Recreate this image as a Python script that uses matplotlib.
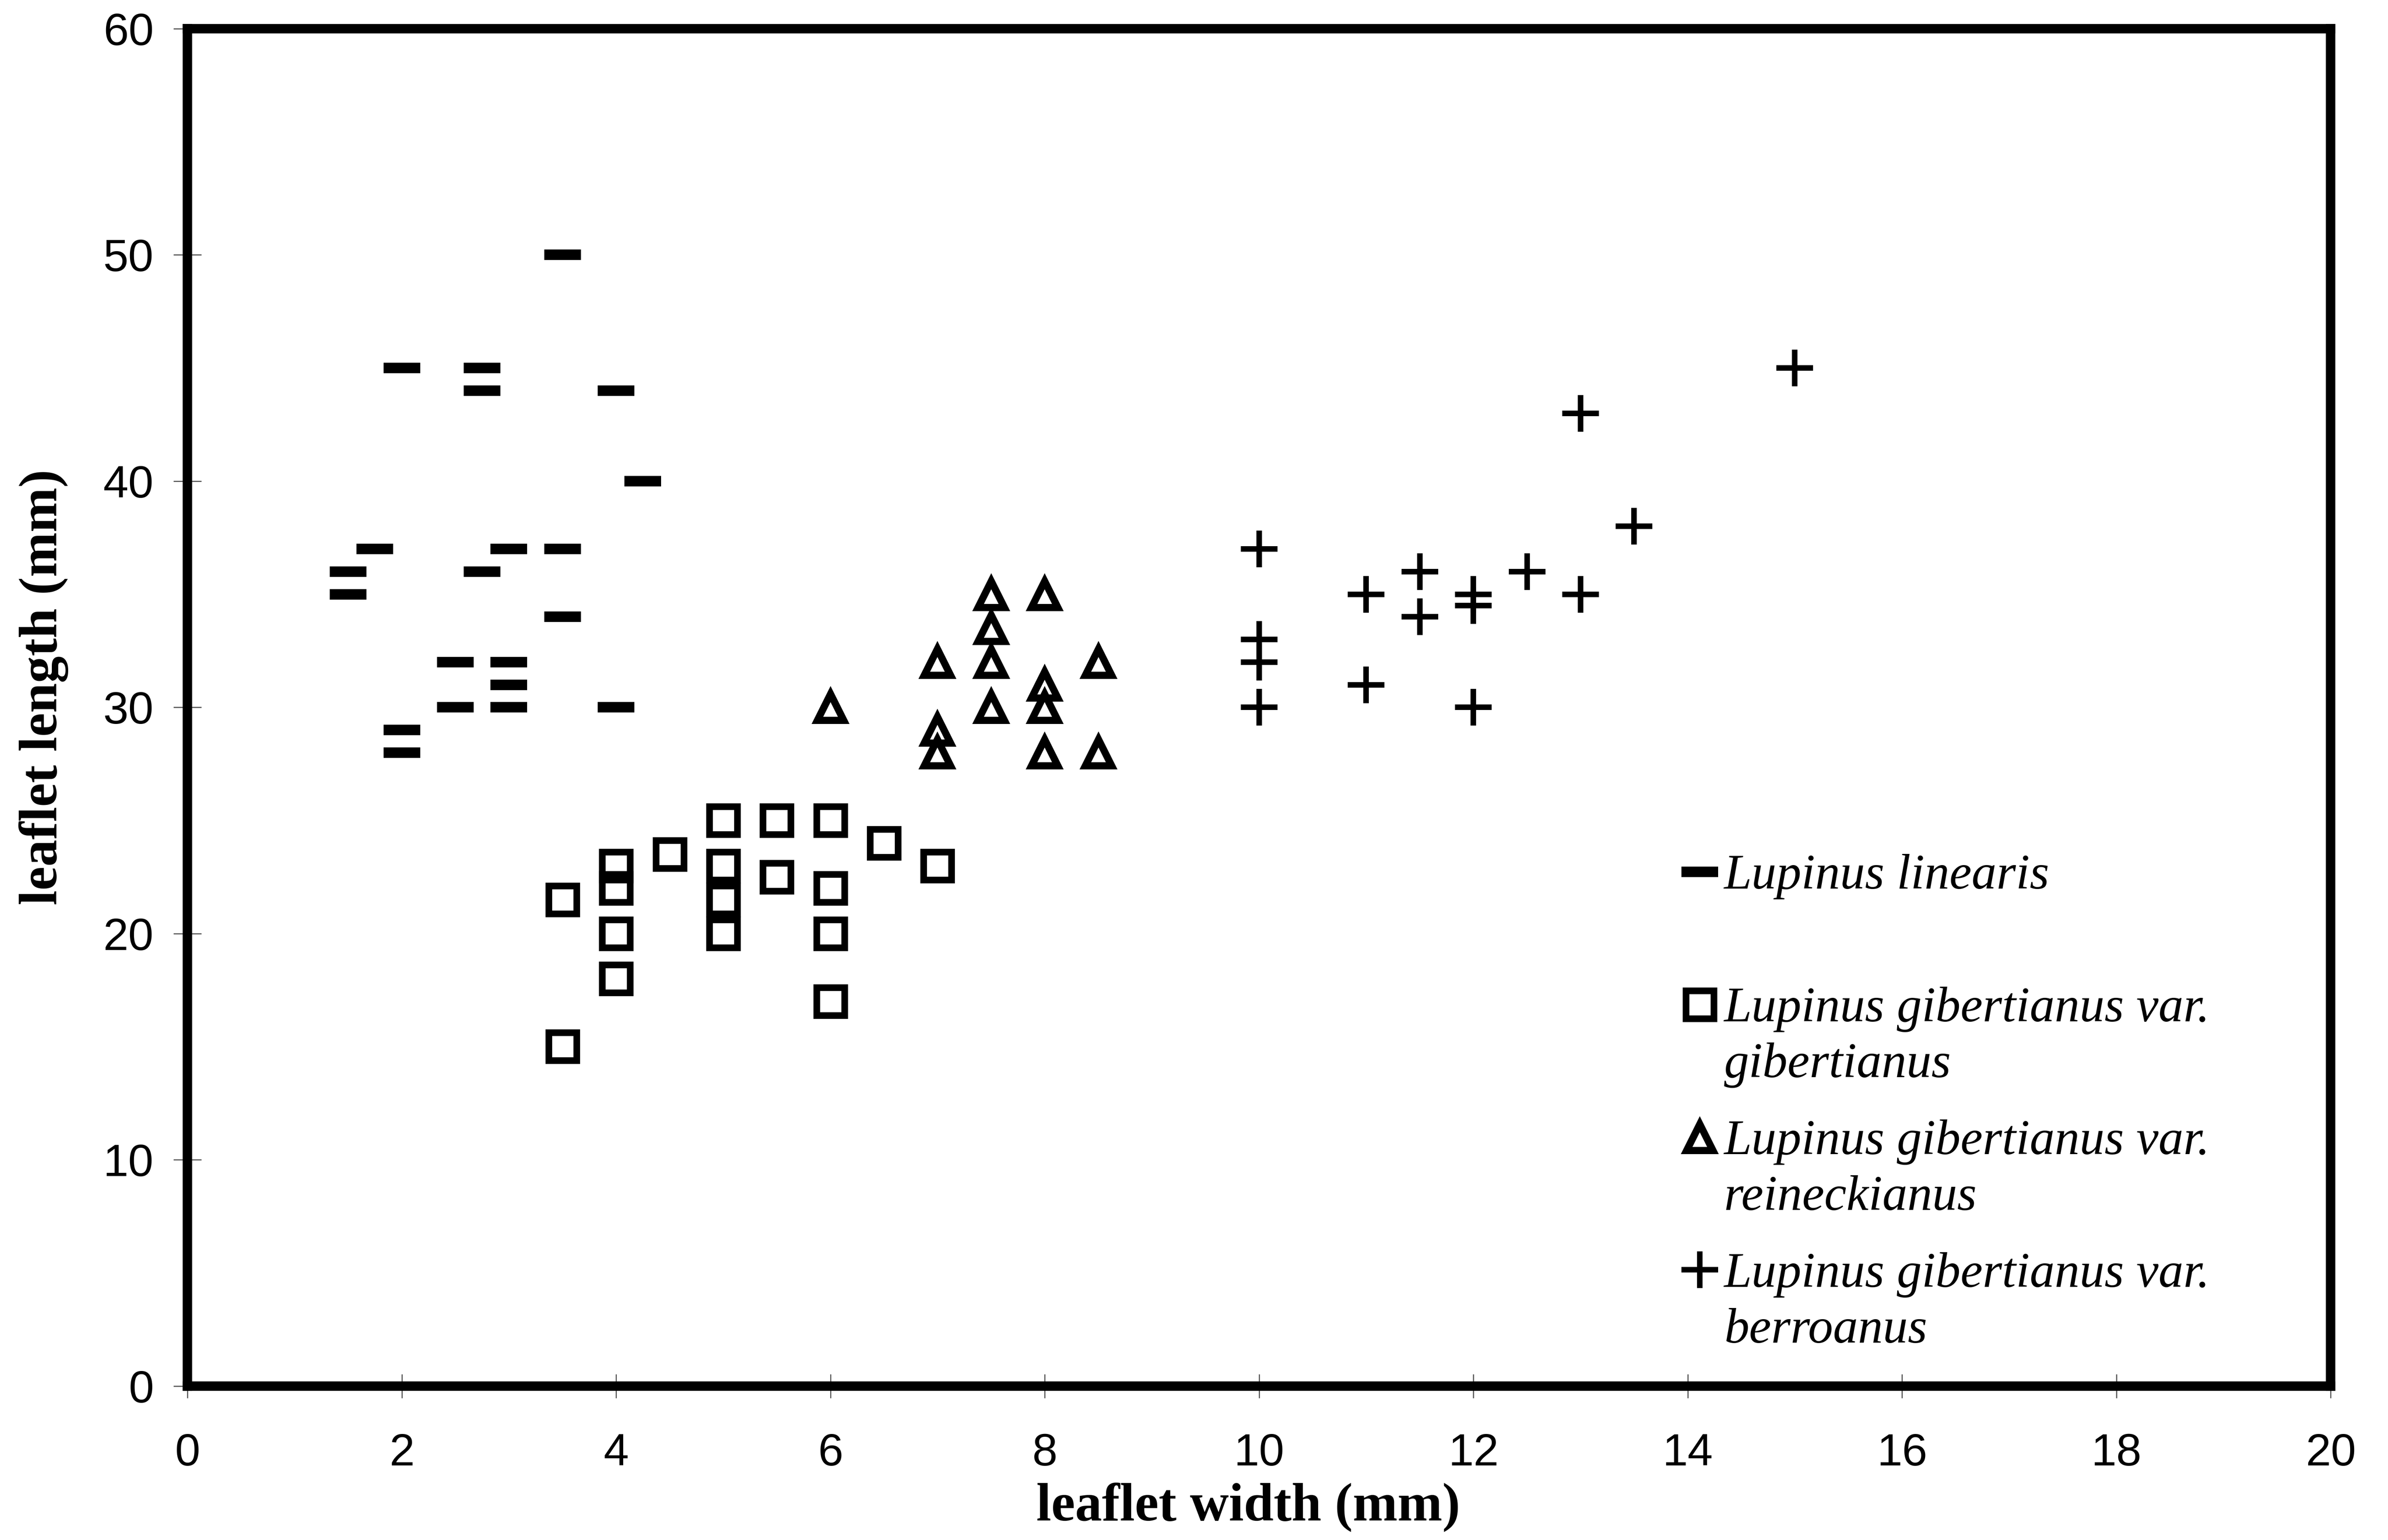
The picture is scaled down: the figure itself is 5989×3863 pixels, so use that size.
import matplotlib
matplotlib.use('Agg')
import matplotlib.pyplot as plt
from matplotlib.lines import Line2D

# ── data ──────────────────────────────────────────────────────────────────────
linearis_w = [1.5, 1.5, 1.75, 2, 2, 2, 2.5, 2.5, 2.75, 2.75, 2.75, 3, 3, 3, 3,
              3.5, 3.5, 3.5, 4, 4, 4.25]
linearis_l = [36, 35, 37, 45, 29, 28, 32, 30, 45, 44, 36, 37, 32, 31, 30,
              50, 37, 34, 44, 30, 40]

gibert_w = [3.5, 3.5, 4, 4, 4, 4, 4.5, 5, 5, 5, 5, 5.5, 5.5, 6, 6, 6, 6, 6.5, 7]
gibert_l = [21.5, 15, 23, 22, 20, 18, 23.5, 25, 23, 21.5, 20, 25, 22.5,
            25, 22, 20, 17, 24, 23]

reineck_w = [6, 7, 7, 7, 7.5, 7.5, 7.5, 7.5, 8, 8, 8, 8, 8.5, 8.5]
reineck_l = [30, 32, 29, 28, 35, 33.5, 32, 30, 35, 31, 30, 28, 32, 28]

berro_w = [10, 10, 10, 10, 11, 11, 11.5, 11.5, 12, 12, 12, 12.5, 13, 13, 13.5, 15]
berro_l = [37, 33, 32, 30, 35, 31, 36, 34, 35, 34.5, 30, 36, 35, 43, 38, 45]

labels = ['Lupinus linearis\n ',
          'Lupinus gibertianus var.\ngibertianus',
          'Lupinus gibertianus var.\nreineckianus',
          'Lupinus gibertianus var.\nberroanus']

x_ticks = list(range(0, 21, 2))
y_ticks = list(range(0, 61, 10))

# ── marker styles ─────────────────────────────────────────────────────────────
STYLES = [
    dict(marker='_', markersize=66, markeredgewidth=19, color='black'),
    dict(marker='s', markersize=51, markeredgewidth=12, color='black',
         markerfacecolor='none'),
    dict(marker='^', markersize=48, markeredgewidth=13, color='black',
         markerfacecolor='none'),
    dict(marker='+', markersize=66, markeredgewidth=10, color='black'),
]

fig = plt.figure(figsize=(59.89, 38.63), dpi=100)
ax = fig.add_axes([0.0785, 0.100, 0.976 - 0.0785, 0.9814 - 0.100])

series = [(linearis_w, linearis_l), (gibert_w, gibert_l),
          (reineck_w, reineck_l), (berro_w, berro_l)]
for (xs, ys), st in zip(series, STYLES):
    ax.plot(xs, ys, linestyle='none', **st)

ax.set_xlim(0, 20)
ax.set_ylim(0, 60)
ax.set_xticks(x_ticks)
ax.set_yticks(y_ticks)

for sp in ax.spines.values():
    sp.set_linewidth(17)
    sp.set_capstyle('projecting')

ax.tick_params(axis='x', direction='inout', length=43, width=2, color='#555555',
               pad=63, labelsize=82)
ax.tick_params(axis='y', direction='inout', length=50, width=2, color='#555555',
               pad=36, labelsize=82)
for lab in ax.get_xticklabels() + ax.get_yticklabels():
    lab.set_fontfamily('Liberation Sans')

lab_font = dict(family='Liberation Serif', weight='bold', size=97)
ax.set_xlabel('leaflet width (mm)', **lab_font)
ax.set_ylabel('leaflet length (mm)', **lab_font)
ax.xaxis.set_label_coords(0.495, -0.071)
ax.yaxis.set_label_coords(-0.0554, 0.515)

# legend
handles = [Line2D([], [], linestyle='none', **st) for st in STYLES]
leg = ax.legend(handles, labels, loc='upper left', bbox_to_anchor=(0.6965, 0.392),
                frameon=False, borderpad=0, borderaxespad=0, numpoints=1,
                handlelength=0.78, handletextpad=0.1, handleheight=0.76,
                labelspacing=0.63,
                prop=dict(family='Liberation Serif', style='italic', size=90))
for t in leg.get_texts():
    t.set_linespacing(1.3)
for col in leg._legend_handle_box.get_children():
    for item in col.get_children():
        item.align = 'top'

fig.savefig('out.png', dpi=100, facecolor='white')
